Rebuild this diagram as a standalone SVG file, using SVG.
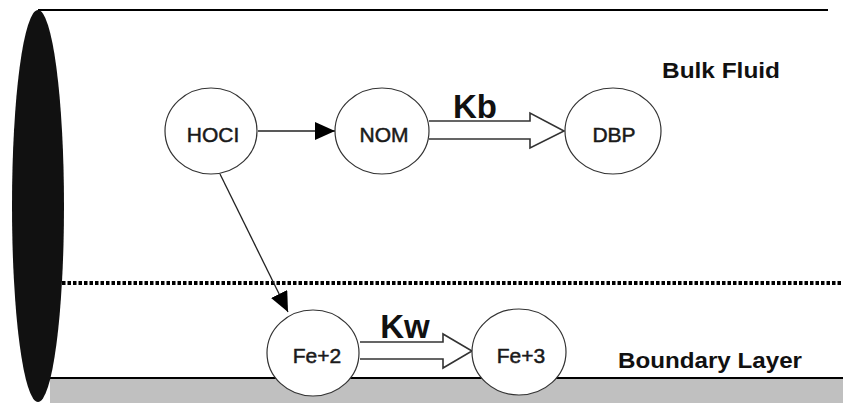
<svg xmlns="http://www.w3.org/2000/svg" width="843" height="403" viewBox="0 0 843 403">
<style>
.node ellipse{fill:#fff;stroke:#333;stroke-width:1.2}
.node text{font-family:"Liberation Sans",Arial,sans-serif;font-size:21px;fill:#1a1a1a;text-anchor:middle;stroke:#1a1a1a;stroke-width:0.5}
.lbl{font-family:"Liberation Sans",Arial,sans-serif;font-weight:bold;fill:#111}
.thin{stroke:#222;stroke-width:1.3;fill:none}
.hollow{fill:#fff;stroke:#333;stroke-width:1.6}
</style>
<defs>
<marker id="ah" markerUnits="userSpaceOnUse" markerWidth="20" markerHeight="18" refX="20" refY="9" orient="auto">
<path d="M0,0 L20,9 L0,18 z" fill="#000"/>
</marker>
</defs>
<rect width="843" height="403" fill="#fff"/>
<g id="pipe">
<rect x="50" y="378" width="793" height="25" fill="#c0c0c0"/>
<line x1="50" y1="378" x2="843" y2="378" stroke="#000" stroke-width="2"/>
<line x1="38" y1="10" x2="828" y2="10" stroke="#000" stroke-width="2"/>
<line x1="62" y1="283" x2="843" y2="283" stroke="#000" stroke-width="4" stroke-dasharray="3.5 2"/>
<ellipse cx="38" cy="206" rx="26" ry="196" fill="#111"/>
</g>
<g id="connectors">
<line class="thin" x1="258" y1="131" x2="335" y2="131" marker-end="url(#ah)"/>
<line class="thin" x1="220" y1="174" x2="288" y2="312" marker-end="url(#ah)"/>
<path class="hollow" d="M429,121 H530 V113 L564,131 L530,148 V139 H429"/>
<path class="hollow" d="M360,342 H443 V334 L472,351 L443,368 V359 H360"/>
<text class="lbl" x="475" y="118" font-size="33" text-anchor="middle">Kb</text>
<text class="lbl" x="405" y="338" font-size="33" text-anchor="middle">Kw</text>
</g>
<g id="HOCl" class="node"><ellipse cx="211" cy="131" rx="46" ry="43"/><text x="213" y="142">HOCI</text></g>
<g id="NOM" class="node"><ellipse cx="382" cy="131" rx="47" ry="43"/><text x="384" y="142">NOM</text></g>
<g id="DBP" class="node"><ellipse cx="613" cy="131" rx="48" ry="43"/><text x="614" y="142">DBP</text></g>
<g id="Fe2" class="node"><ellipse cx="313" cy="353" rx="46" ry="43"/><text x="317" y="363">Fe+2</text></g>
<g id="Fe3" class="node"><ellipse cx="519" cy="352" rx="47" ry="43"/><text x="521" y="363">Fe+3</text></g>
<text class="lbl" x="662" y="78" font-size="22" textLength="118" lengthAdjust="spacingAndGlyphs">Bulk Fluid</text>
<text class="lbl" x="618" y="368" font-size="22" textLength="184" lengthAdjust="spacingAndGlyphs">Boundary Layer</text>
</svg>
